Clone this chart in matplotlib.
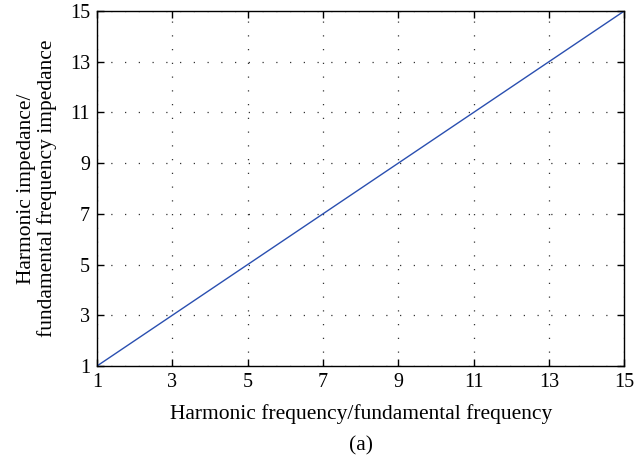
import matplotlib
matplotlib.use("Agg")
import matplotlib.pyplot as plt

harmonic_order = [1, 3, 5, 7, 9, 11, 13, 15]
impedance_ratio = [1, 3, 5, 7, 9, 11, 13, 15]
x_ticks = [1, 3, 5, 7, 9, 11, 13, 15]
y_ticks = [1, 3, 5, 7, 9, 11, 13, 15]

plt.rcParams['font.family'] = ['Liberation Serif', 'DejaVu Serif']

fig = plt.figure(figsize=(6.34, 4.72), dpi=100)
ax = fig.add_axes([0.153, 0.2246, 0.832, 0.7524])
ax.plot(harmonic_order, impedance_ratio, color='#2a4fb0', lw=1.0)
ax.set_xlim(1, 15)
ax.set_ylim(1, 15)
ax.set_xticks(x_ticks)
ax.set_yticks(y_ticks)
ax.grid(True, color='#333333', linestyle=(0, (1, 10)), linewidth=0.9)
ax.tick_params(direction='in', top=True, right=True, length=5, width=1, labelsize=14.5, pad=5)
for s in ax.spines.values():
    s.set_linewidth(1.0)
ax.set_xlabel('Harmonic frequency/fundamental frequency', fontsize=15.5, labelpad=9)
ax.set_ylabel('Harmonic impedance/\nfundamental frequency impedance', fontsize=15.5, labelpad=9, linespacing=1.1)
fig.text(0.5 * (0.153 + 0.987), 1 - 446 / 472, '(a)', ha='center', va='center', fontsize=15.5)
fig.savefig('out.png', dpi=100)
